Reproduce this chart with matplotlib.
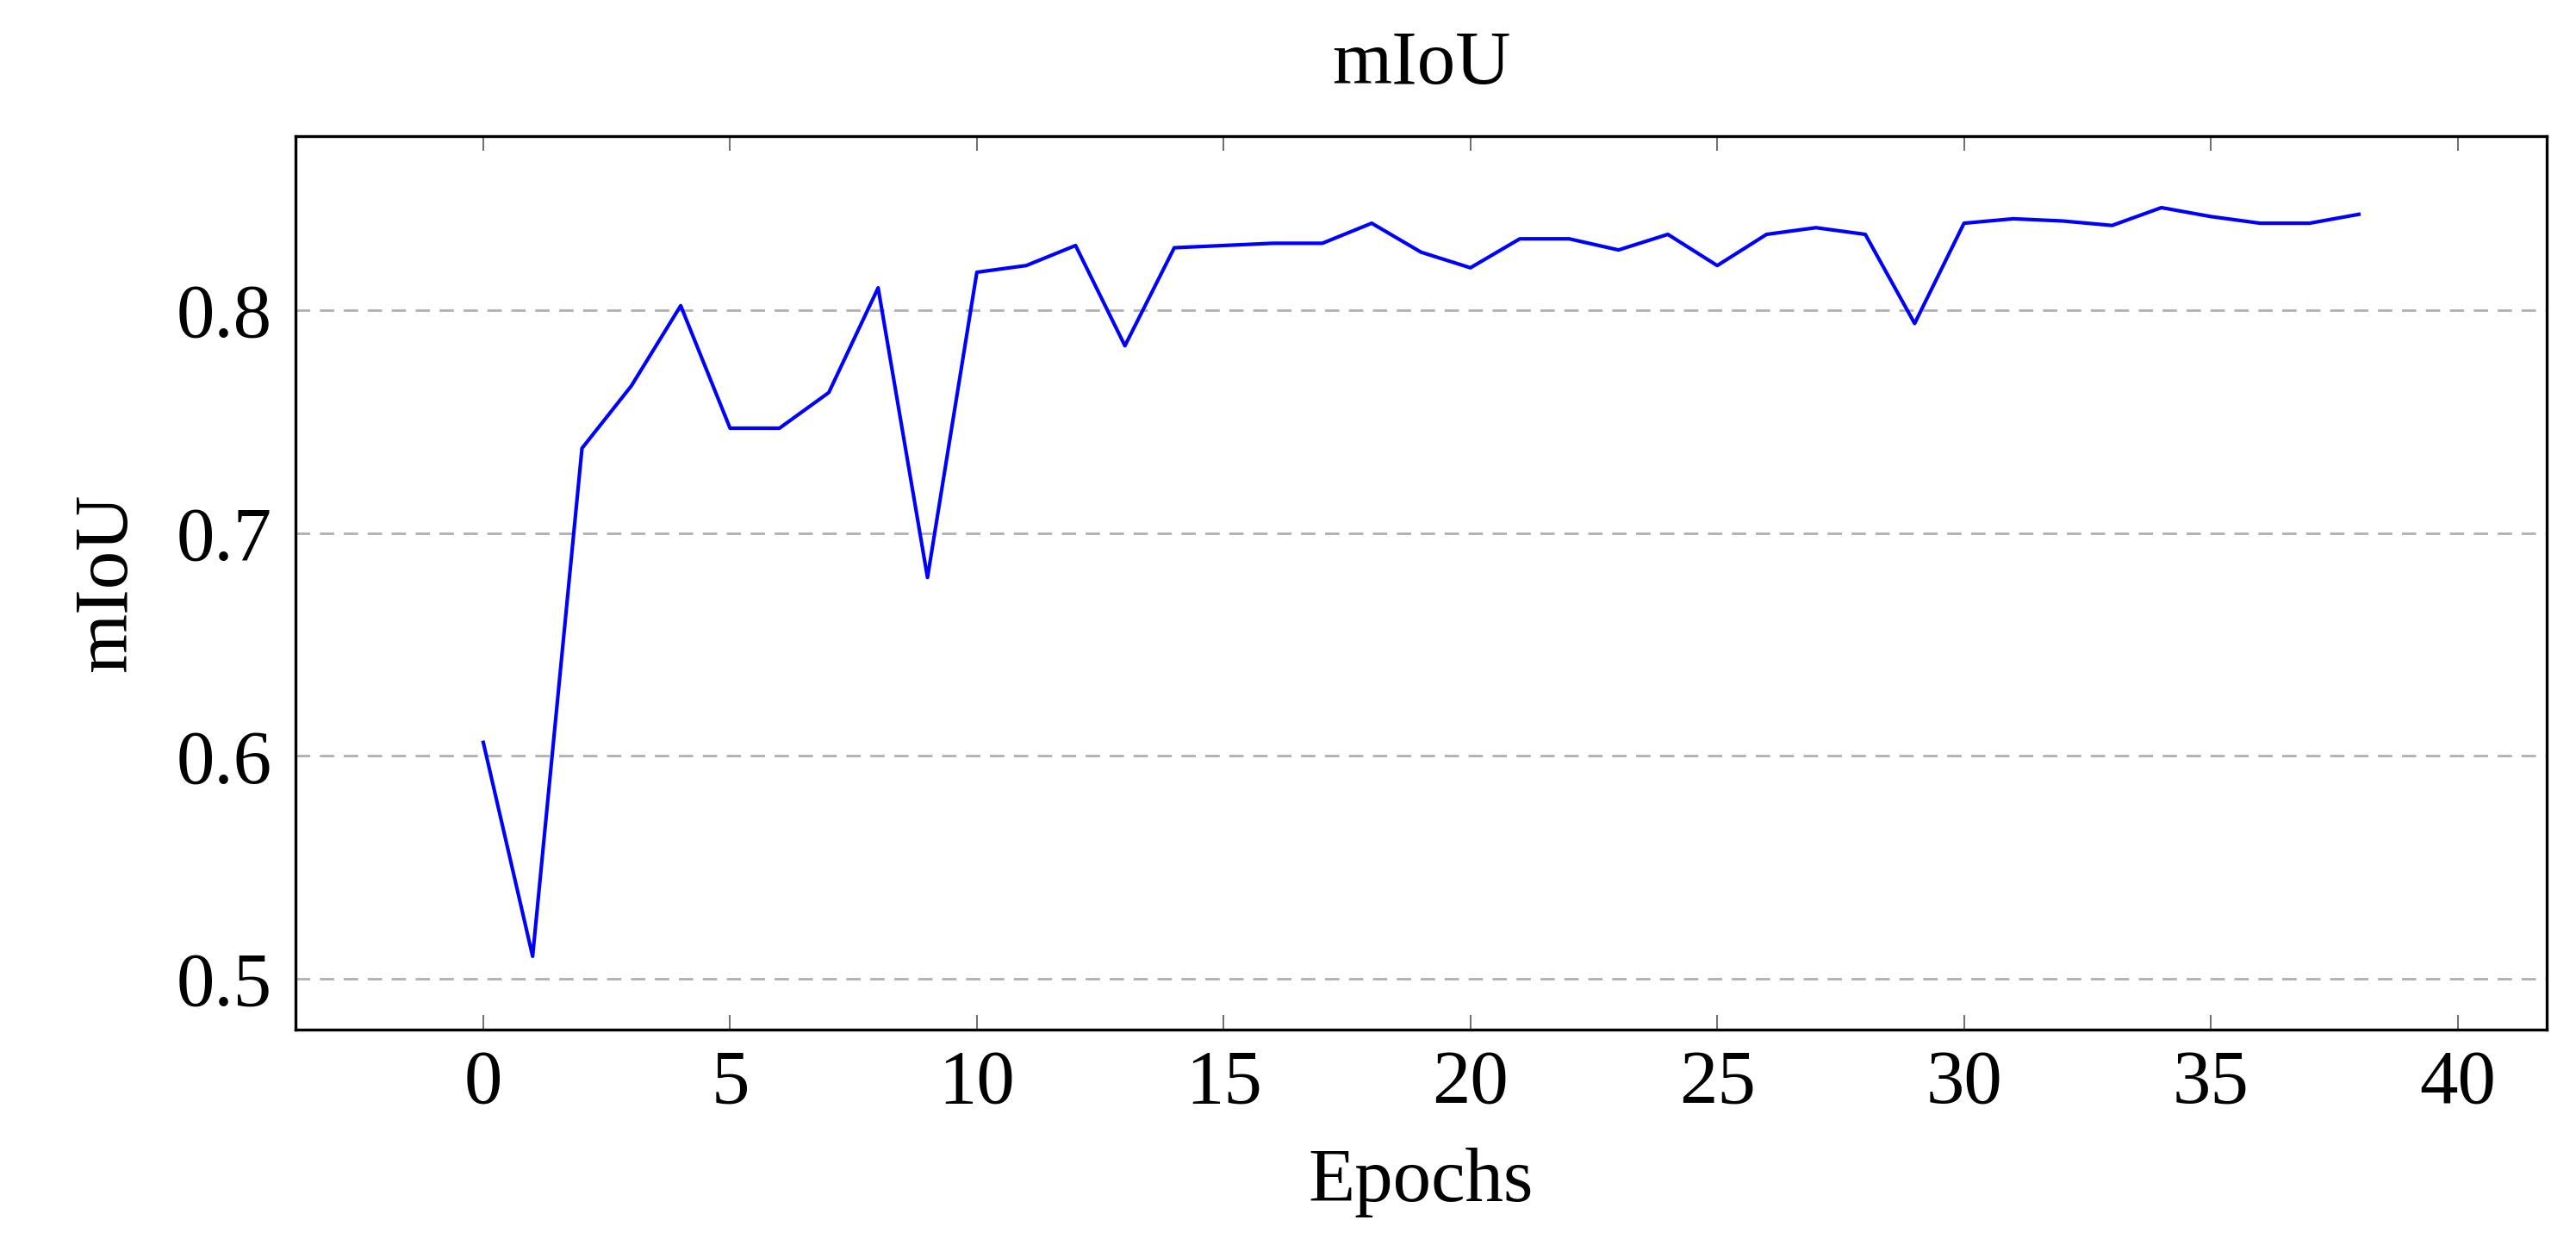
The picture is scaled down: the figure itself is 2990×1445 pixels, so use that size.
import matplotlib
matplotlib.use("Agg")
import matplotlib.pyplot as plt

epochs = list(range(39))
miou = [0.606, 0.510, 0.738, 0.766, 0.802, 0.747, 0.747, 0.763, 0.810, 0.680,
        0.817, 0.820, 0.829, 0.784, 0.828, 0.829, 0.830, 0.830, 0.839, 0.826,
        0.819, 0.832, 0.832, 0.827, 0.834, 0.820, 0.834, 0.837, 0.834, 0.794,
        0.839, 0.841, 0.840, 0.838, 0.846, 0.842, 0.839, 0.839, 0.843]
xticks = [0, 5, 10, 15, 20, 25, 30, 35, 40]
yticks = [0.5, 0.6, 0.7, 0.8]

plt.rcParams['font.family'] = ['Liberation Serif', 'DejaVu Serif']
fig = plt.figure(figsize=(14.95, 7.225), dpi=200)
ax = fig.add_axes([180/1568, 1-627/758, 1370/1568, 544/758])
ax.plot(epochs, miou, color='#0000ff', lw=1.5)
ax.set_xlim(-3.8, 41.8)
ax.set_ylim(0.477, 0.878)
ax.set_xticks(xticks)
ax.set_yticks(yticks)
ax.set_yticklabels([f"{v:g}" for v in yticks])
ax.yaxis.grid(True, ls=(0, (6, 4)), color='#b0b0b0', lw=1)
ax.tick_params(axis='x', direction='in', top=True, length=6, width=0.6, color='#555555', labelsize=32, pad=8)
ax.tick_params(axis='y', length=0, labelsize=32, pad=10)
for s in ax.spines.values():
    s.set_linewidth(1.2)
ax.set_xlabel('Epochs', fontsize=32, labelpad=12)
ax.set_ylabel('mIoU', fontsize=32, labelpad=14)
ax.set_title('mIoU', fontsize=32, pad=22)
fig.savefig('out.png')
